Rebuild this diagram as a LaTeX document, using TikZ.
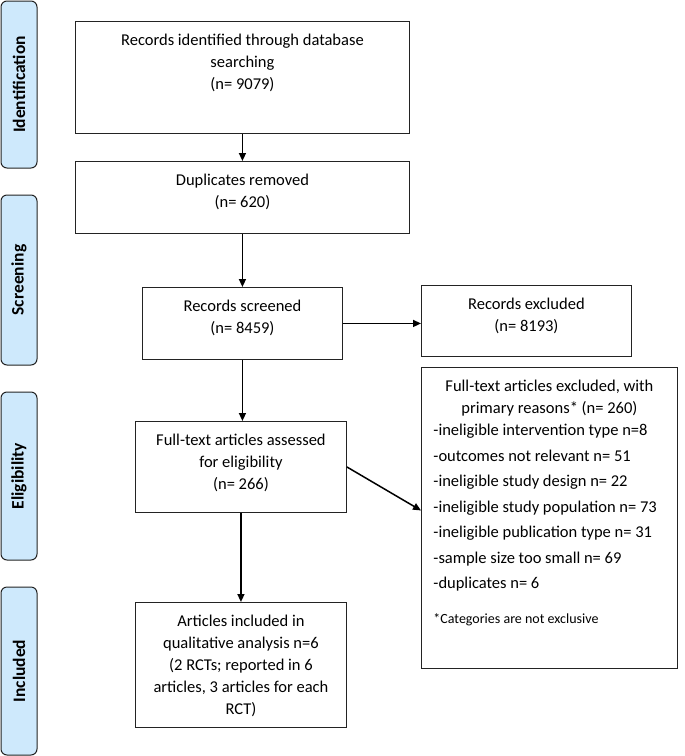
\documentclass[tikz,border=0pt]{standalone}
\usepackage{fontspec}
\setmainfont{Carlito}
\usetikzlibrary{arrows.meta}
\definecolor{stage}{RGB}{206,233,252}
\definecolor{ln}{RGB}{35,35,35}

\begin{document}
\begin{tikzpicture}[
    x=1pt, y=-1pt,
    font=\fontsize{16.5}{22}\selectfont,
    s/.style={
        rounded corners=6pt,
        fill=stage, draw=ln, line width=1pt,
        rotate=90, minimum height=36pt, inner sep=0pt,
        font=\fontsize{17.5}{20}\selectfont\bfseries
    },
    b/.style 2 args={
        draw=ln, line width=0.9pt, anchor=north west,
        inner xsep=0pt, inner ysep=13pt,
        execute at begin node={\begin{minipage}[t][#2][t]{#1}\centering},
        execute at end node={\end{minipage}}
    },
    a/.style={
        line width=1.5pt,
        -{Triangle[length=8pt,width=7pt]}
    }
]

    \useasboundingbox (0,0) rectangle (685,756);

    % stages
    \node [s, minimum width=167pt] (sI) at (19, 84.5) {Identification};
    \node [s, minimum width=170pt] (sS) at (19, 280)  {Screening};
    \node [s, minimum width=168pt] (sE) at (19, 476)  {Eligibility};
    \node [s, minimum width=168pt] (sN) at (19, 671)  {Included};

    % boxes
    \node [b={334pt}{86pt}] (idf) at (75, 21)  {Records identified through database\\ searching\\ (n= 9079)};
    \node [b={334pt}{46pt}] (dup) at (75, 161) {Duplicates removed\\ (n= 620)};
    \node [b={200pt}{46pt}] (scr) at (142, 287) {Records screened\\ (n= 8459)};
    \node [b={210pt}{45pt}] (exc) at (421, 285) {Records excluded\\ (n= 8193)};
    \node [b={211pt}{65pt}] (elg) at (135, 421) {Full-text articles assessed\\ for eligibility\\ (n= 266)};
    \node [b={211pt}{99pt}] (inc) at (135, 602) {Articles included in\\ qualitative analysis n=6\\ (2 RCTs; reported in 6\\ articles, 3 articles for each\\ RCT)};
    \node [b={256pt}{275pt}] (why) at (421, 367) {%
        Full-text articles excluded, with\\ primary reasons* (n= 260)\par
        \vspace{-3.5pt}\raggedright\leftskip=12pt\fontsize{16.5}{25.5}\selectfont
        -ineligible intervention type n=8\\
        -outcomes not relevant n= 51\\
        -ineligible study design n= 22\\
        -ineligible study population n= 73\\
        -ineligible publication type n= 31\\
        -sample size too small n= 69\\
        -duplicates n= 6\par
        \vspace{18pt}\fontsize{14}{17}\selectfont *Categories are not exclusive\par};

    % arrows
    \draw [a] (idf) -- (dup);
    \draw [a] (dup) -- (scr);
    \draw [a] (scr.east) -- (scr.east -| exc.west);
    \draw [a] (scr.south) -- (scr.south |- elg.north);
    \draw [a] (elg.east) -- ([yshift=7.5pt]why.west);
    \draw [a] (elg) -- (inc);

\end{tikzpicture}
\end{document}
